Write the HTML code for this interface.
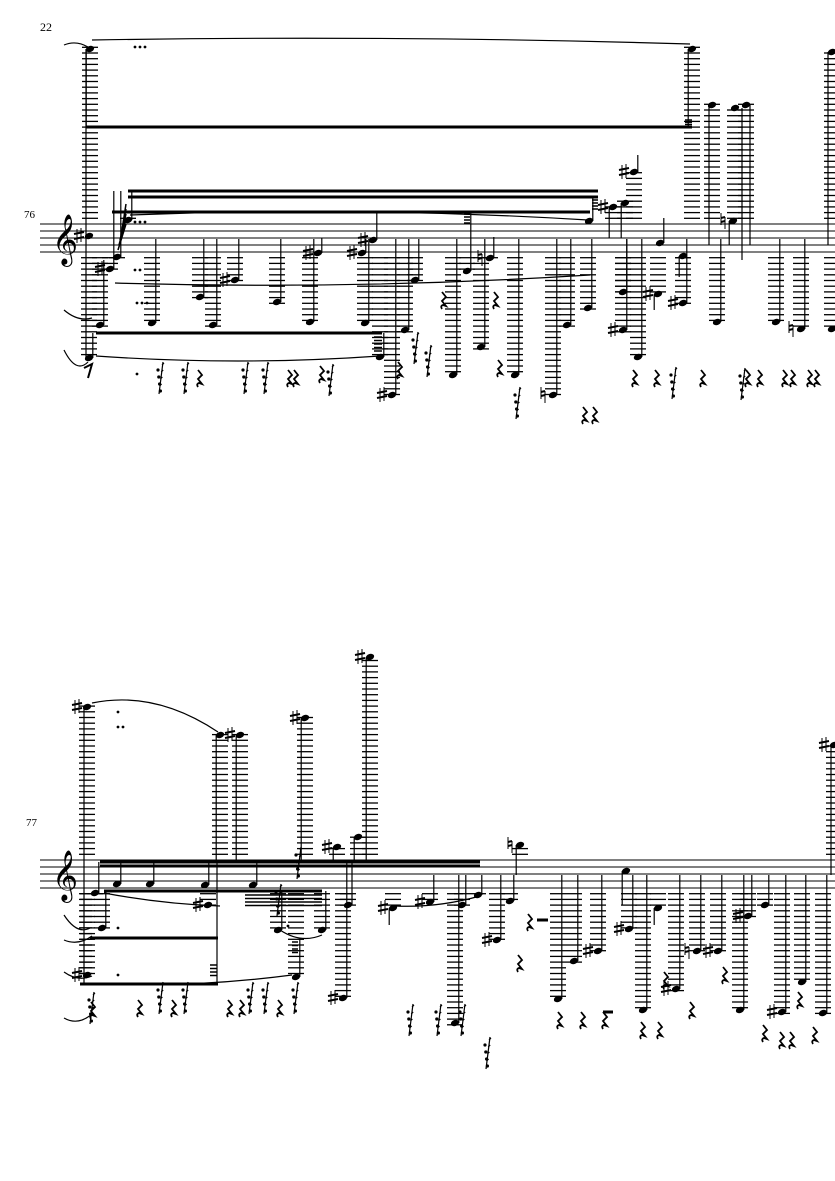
<!DOCTYPE html>
<html><head><meta charset="utf-8"><style>
html,body{margin:0;padding:0;background:#fff;width:835px;height:1181px;overflow:hidden}
svg{display:block}
text{font-family:"Liberation Serif",serif}
</style></head><body>
<svg id="s" width="835" height="1181" viewBox="0 0 835 1181" xmlns="http://www.w3.org/2000/svg">
<text x="40" y="31" font-size="12">22</text>
<text x="24" y="218" font-size="11">76</text>
<text x="26" y="826" font-size="11">77</text>
</svg>
<script>
var S=document.getElementById('s'),h='';
function L(x1,y1,x2,y2,w){h+='<line x1="'+x1+'" y1="'+y1+'" x2="'+x2+'" y2="'+y2+'" stroke="#000" stroke-width="'+(w||1)+'"/>';}
function staff(t){for(var i=0;i<5;i++)L(40,t+i*7,835,t+i*7,1);}
function clef(x,t){h+='<text x="'+(x-3)+'" y="'+(t+30)+'" font-size="44" font-family="DejaVu Sans,serif">&#x1D11E;</text>';}
function sharp(x,y){L(x-9,y-7,x-9,y+7,1);L(x-5,y-8,x-5,y+6,1);L(x-12,y-2,x-2,y-4,2);L(x-12,y+3,x-2,y+1,2);}
function nat(x,y){L(x-9,y-8,x-9,y+4,1);L(x-5,y-4,x-5,y+8,1);L(x-9,y+1,x-5,y,2);L(x-9,y-3,x-5,y-4,2);}
function note(x,y,se,acc,t){
 var b=t+28;
 if(y<t-3){for(var ly=t-5.7;ly>=y-2;ly-=5.7)L(x-8,ly,x+8,ly,1.3);}
 if(y>b+3){for(var ly=b+5.7;ly<=y+2;ly+=5.7)L(x-8,ly,x+8,ly,1.3);}
 h+='<ellipse cx="'+x+'" cy="'+y+'" rx="4.3" ry="3" transform="rotate(-20 '+x+' '+y+')"/>';
 if(se!=null){var sx=se<y?x+3.8:x-3.8;L(sx,y,sx,se,1.2);}
 if(acc==1)sharp(x-3,y);if(acc==2)nat(x-3,y);
}
function beam(x1,y1,x2,y2,w){h+='<polygon points="'+x1+','+(y1-w/2)+' '+x2+','+(y2-w/2)+' '+x2+','+(y2+w/2)+' '+x1+','+(y1+w/2)+'"/>';}
function rest(x,y){h+='<path d="M'+(x-2)+' '+(y-8)+' l4 5 l-4 4 l4 5 l-3 -1 q-3 1 -1 4" fill="none" stroke="#000" stroke-width="1.8"/>';}
function grace(x,y){for(var i=0;i<4;i++)h+='<circle cx="'+(x-2+i*0.8)+'" cy="'+(y+i*7)+'" r="1.6"/>';L(x+3,y-8,x-1,y+24,1.2);for(var i=0;i<4;i++)L(x+2-i*0.8,y-5+i*7,x+4-i*0.8,y-7+i*7,1.2);}
function dots(x,y,n){for(var i=0;i<n;i++)h+='<circle cx="'+(x+i*5)+'" cy="'+y+'" r="1.4"/>';}
function slur(x1,y1,x2,y2,c){h+='<path d="M'+x1+' '+y1+' Q'+((x1+x2)/2)+' '+c+' '+x2+' '+y2+'" fill="none" stroke="#000" stroke-width="1.2"/>';}

// ===== System 1 =====
var t=224;staff(t);clef(55,t);
note(90,49,127,0,t);note(692,49,127,0,t);
L(86,49,86,360,1.2);
beam(86,127,692,127,3);
for(var i=0;i<4;i++)L(685,120+i*2.2,692,120+i*2.2,1.5);
slur(64,45,88,47,40);slur(92,40,690,44,35);dots(135,47,3);
note(712,105,null,0,t);L(709,105,709,245,1.2);
note(735,108,null,0,t);note(746,105,null,0,t);L(742,108,742,260,1.2);L(750,105,750,245,1.2);
note(832,52,null,0,t);L(828,52,828,245,1.2);
note(89,236,null,1,t);
note(100,325,260,0,t);
note(89,358,333,0,t);
note(110,269,191,1,t);note(117,257,191,0,t);
for(var k=0;k<5;k++)L(118+k*1,250-k*5,126,224-k*5,1.5);
note(128,220,191,0,t);
beam(112,212,590,212,3);
beam(128,191,598,191,3);beam(128,197,598,197,3);
beam(96,333,382,333,3);
dots(135,222,3);dots(135,270,2);dots(137,303,3);dots(137,374,1);
slur(130,215,588,220,206);slur(115,283,590,275,290);slur(96,356,380,356,366);
note(152,323,239,0,t);note(200,297,239,0,t);note(213,325,239,0,t);
note(235,280,239,1,t);note(277,302,239,0,t);
note(310,322,239,0,t);note(318,253,238,1,t);
note(362,253,239,1,t);note(373,240,212,1,t);note(365,323,239,0,t);
note(380,357,333,0,t);
for(var i=0;i<5;i++)L(374,337+i*3.5,382,337+i*3.5,1.5);
note(392,395,239,1,t);
note(405,330,239,0,t);note(415,280,239,0,t);
note(453,375,239,0,t);note(467,271,212,0,t);
for(var i=0;i<4;i++)L(464,214+i*3,470,214+i*3,1.5);
note(490,258,237,2,t);note(481,347,239,0,t);
note(515,375,239,0,t);note(553,395,239,2,t);
note(567,325,239,0,t);note(588,308,239,0,t);
note(589,221,198,0,t);for(var i=0;i<4;i++)L(592,200+i*3,598,200+i*3,1.5);
note(613,207,238,1,t);note(625,203,238,0,t);
note(634,172,155,1,t);
note(623,292,239,0,t);note(623,330,239,1,t);note(638,357,239,0,t);
note(660,243,218,0,t);note(658,294,310,1,t);
note(683,256,277,0,t);note(683,303,239,1,t);
note(717,322,239,0,t);note(733,221,245,2,t);
note(776,322,239,0,t);note(801,329,239,2,t);note(832,329,239,0,t);
[[160,370],[185,370],[245,370],[265,370],[330,372],[415,340],[428,353],[517,395],[673,375],[742,376]].forEach(function(p){grace(p[0],p[1]);});
[[200,378],[290,378],[296,378],[322,374],[444,300],[400,370],[496,300],[500,368],[585,415],[595,415],[635,378],[657,378],[703,378],[748,378],[760,378],[785,378],[793,378],[810,378],[817,378]].forEach(function(p){rest(p[0],p[1]);});
h+='<path d="M84 368 l8 -4 l-4 14" fill="none" stroke="#000" stroke-width="2"/>';
slur(64,310,92,318,322);slur(64,350,88,362,374);

// ===== System 2 =====
t=860;staff(t);clef(55,t);
note(87,707,null,1,t);L(84,707,84,985,1.2);
for(var ly=t+33.7;ly<=975;ly+=5.7)L(80,ly,92,ly,1.3);
note(87,975,null,1,t);
note(220,735,862,0,t);note(240,735,862,1,t);
note(305,718,862,1,t);note(370,657,862,1,t);
slur(92,703,218,732,690);dots(118,712,1);dots(118,727,2);
beam(100,862,480,862,3);beam(100,866,480,866,3);
note(95,893,862,0,t);note(117,884,862,0,t);note(150,884,862,0,t);note(205,885,862,0,t);note(253,885,862,0,t);
note(208,905,null,1,t);
beam(104,891,322,891,3);
for(var i=0;i<4;i++)L(245,895+i*3.5,322,895+i*3.5,1.5);
note(102,928,891,0,t);note(278,930,891,0,t);note(322,930,891,0,t);
beam(90,938,218,938,3);
L(217,860,217,985,1.2);
beam(80,984,218,984,3);
for(var i=0;i<4;i++)L(210,965+i*3.5,217,965+i*3.5,1.5);
note(296,977,938,0,t);for(var i=0;i<4;i++)L(292,942+i*3.5,298,942+i*3.5,1.5);
slur(64,915,90,928,935);slur(104,893,220,906,904);slur(280,930,322,935,944);slur(95,984,292,975,988);
dots(118,928,1);dots(118,975,1);dots(288,926,1);
note(337,847,862,1,t);note(358,837,862,0,t);
note(348,905,null,0,t);
L(352,905,352,860,1.2);
note(343,998,862,1,t);
note(393,908,925,1,t);note(430,902,875,1,t);note(462,905,875,0,t);note(478,895,875,0,t);note(455,1023,875,0,t);
slur(395,906,480,896,908);
note(497,940,875,1,t);note(510,901,875,0,t);note(520,845,875,2,t);
note(558,999,875,0,t);note(574,961,875,0,t);note(598,951,875,1,t);
note(626,871,905,0,t);note(629,929,875,1,t);
note(643,1010,875,0,t);note(658,908,925,0,t);note(676,989,875,1,t);
note(697,951,875,2,t);note(718,951,875,1,t);
note(740,1010,875,0,t);note(748,916,875,1,t);note(765,905,875,0,t);
note(782,1012,875,1,t);note(802,982,875,0,t);note(823,1013,875,0,t);
note(834,745,null,1,t);L(831,745,831,875,1.2);
[[91,1000],[160,990],[185,990],[250,990],[265,990],[295,990],[410,1012],[438,1012],[462,1012],[487,1045],[278,892],[298,855]].forEach(function(p){grace(p[0],p[1]);});
[[93,1010],[140,1008],[174,1008],[230,1008],[242,1008],[280,1008],[530,922],[520,963],[560,1020],[583,1020],[605,1020],[643,1030],[660,1030],[666,980],[692,1010],[725,975],[765,1033],[782,1040],[792,1040],[800,1000],[815,1035]].forEach(function(p){rest(p[0],p[1]);});
beam(537,920,548,920,3);beam(603,1012,613,1012,3);
slur(64,940,92,936,946);slur(64,972,92,976,982);slur(64,1018,92,1014,1026);
S.innerHTML+=h;
</script>
</body></html>
